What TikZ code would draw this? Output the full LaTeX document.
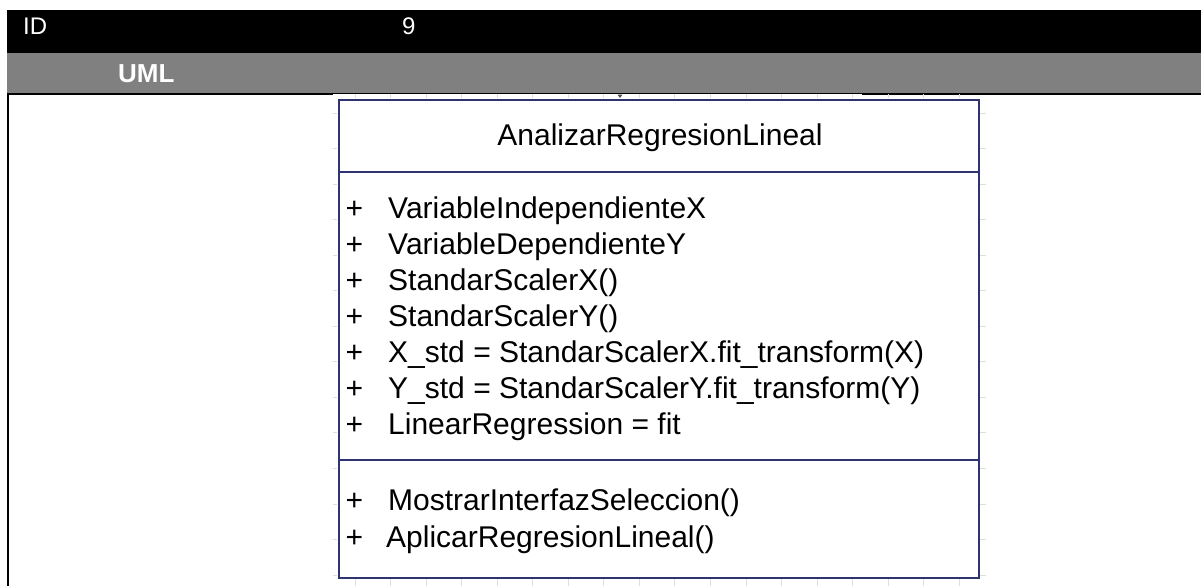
\documentclass[tikz,border=0pt]{standalone}
\usepackage{fontspec}
\setmainfont{Liberation Sans}
\usetikzlibrary{positioning}
\definecolor{umlblue}{RGB}{45,52,112}
\definecolor{gridgray}{RGB}{222,222,222}
\definecolor{bargray}{RGB}{128,128,128}

\begin{document}
\begin{tikzpicture}[x=1pt,y=-1pt]
  % styles
  \tikzstyle{hdr} = [anchor=base west,inner sep=0,text=white,font=\fontsize{24}{28}\selectfont];
  \tikzstyle{member} = [anchor=base west,inner sep=0,font=\fontsize{30}{36}\selectfont];
  \tikzstyle{gridtick} = [draw=gridgray,line width=1pt];
  \tikzstyle{classbox} = [draw=umlblue,line width=1.5pt,inner sep=0,anchor=north west,minimum width=640pt,minimum height=478pt];

  \useasboundingbox (0,0) rectangle (1201,586);

  % header bars
  \fill[black] (7,10) rectangle (1201,53);
  \fill[bargray] (7,53) rectangle (1201,93);
  \draw[line width=2pt] (7,93.5) -- (333,93.5);
  \draw[line width=0.8pt] (333,93.3) -- (862,93.3);
  \draw[line width=2pt] (862,93.5) -- (1201,93.5);
  \draw[line width=2pt] (8,93) -- (8,586);

  \node[hdr] (id) at (23,35) {ID};
  \node[hdr] (idval) at (402,35) {9};
  \node[hdr,font=\fontsize{26}{30}\selectfont\bfseries] (uml) at (118,82) {UML};

  % grid ticks round the class
  \foreach \gx in {0,...,17} {
    \draw[gridtick] ({355+35.55*\gx},94) -- ({355+35.55*\gx},98);
    \draw[gridtick] ({355+35.55*\gx},578) -- ({355+35.55*\gx},586);
  }
  \foreach \gy in {0,...,13} {
    \draw[gridtick] (333,{113+35.55*\gy}) -- (337,{113+35.55*\gy});
    \draw[gridtick] (979,{113+35.55*\gy}) -- (986,{113+35.55*\gy});
  }
  \fill[gray!60!black] (617.5,94.5) -- (622.5,94.5) -- (620,98) -- cycle;

  % class
  \node[classbox] (cls) at (338,99) {};
  \coordinate (sep1) at (0,172);
  \coordinate (sep2) at (0,460);
  \draw[umlblue,line width=1.5pt] (cls.west |- sep1) -- (cls.east |- sep1);
  \draw[umlblue,line width=1.5pt] (cls.west |- sep2) -- (cls.east |- sep2);

  \node[member,anchor=base] (title) at (660,145) {AnalizarRegresionLineal};

  \node[member] (attrX) at (345.5,218) {+\hspace{25pt}VariableIndependienteX};
  \node[member] (attrY) at (345.5,254) {+\hspace{25pt}VariableDependienteY};
  \node[member] (scalerX) at (345.5,290) {+\hspace{25pt}StandarScalerX()};
  \node[member] (scalerY) at (345.5,326) {+\hspace{25pt}StandarScalerY()};
  \node[member] (xstd) at (345.5,362) {+\hspace{25pt}X\_std = StandarScalerX.fit\_transform(X)};
  \node[member] (ystd) at (345.5,398) {+\hspace{25pt}Y\_std = StandarScalerY.fit\_transform(Y)};
  \node[member] (linreg) at (345.5,434) {+\hspace{25pt}LinearRegression = fit};

  \node[member] (showUI) at (345.5,510) {+\hspace{25pt}MostrarInterfazSeleccion()};
  \node[member] (applyReg) at (345.5,547) {+\hspace{23pt}AplicarRegresionLineal()};
\end{tikzpicture}
\end{document}
